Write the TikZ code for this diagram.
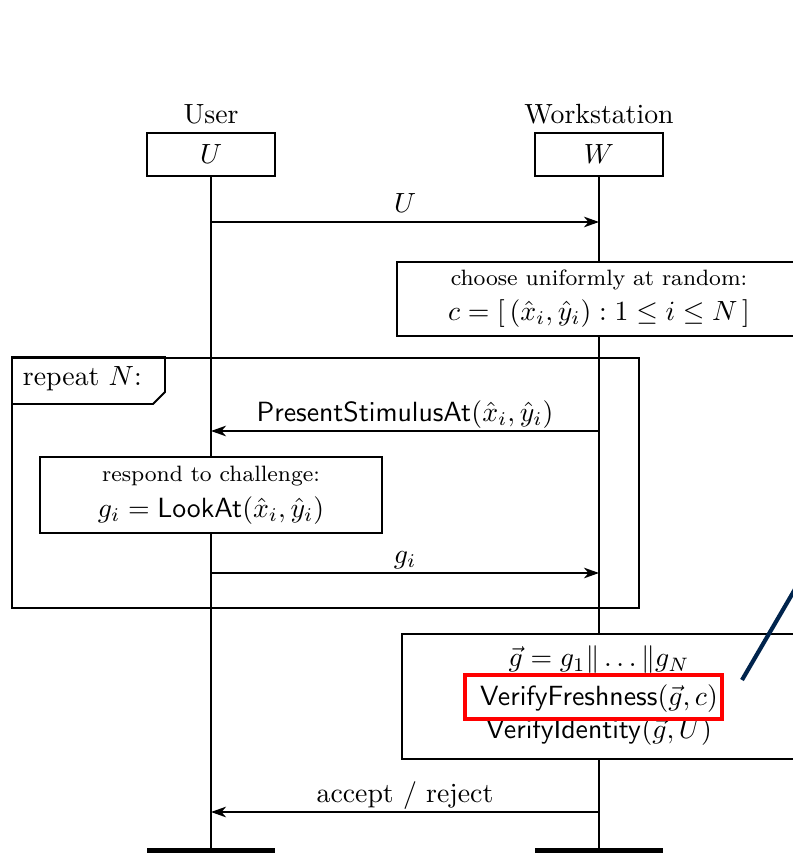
\documentclass[tikz,border=0pt]{standalone}
\usepackage{amsmath,amssymb}
\usetikzlibrary{arrows.meta}
\definecolor{calloutblue}{RGB}{0,36,77}

\begin{document}
\begin{tikzpicture}[
    x=0.36pt, y=-0.36pt,
    >={Stealth[length=5.4pt, width=3.8pt, inset=1.6pt]},
    line width=0.7pt,
    font=\normalsize,
    actor/.style={draw, minimum width=46pt, minimum height=15.5pt, inner sep=0pt},
    action/.style={draw, fill=white, align=center, inner sep=0pt},
    msg/.style={->},
    msglabel/.style={anchor=base, yshift=3.4pt, inner sep=0pt}
]
\useasboundingbox (0,0) rectangle (792,853);

% participants
\node[actor, label={[inner sep=2.4pt]above:User}] (U) at (211,154.5) {$U$};
\node[actor, label={[inner sep=2.4pt]above:Workstation}] (W) at (599,154.5) {$W$};

\coordinate (Uend) at (211,852);
\coordinate (Wend) at (599,852);

% lifelines
\draw (U.south) -- (Uend);
\draw (W.south) -- (Wend);
\draw[line width=3pt] ([xshift=-23pt]Uend) -- ([xshift=23pt]Uend);
\draw[line width=3pt] ([xshift=-23pt]Wend) -- ([xshift=23pt]Wend);

% message anchors
\coordinate (u1) at (211,222);  \coordinate (w1) at (599,222);
\coordinate (u2) at (211,431);  \coordinate (w2) at (599,431);
\coordinate (u3) at (211,573);  \coordinate (w3) at (599,573);
\coordinate (u4) at (211,812);  \coordinate (w4) at (599,812);

\draw[msg] (u1) -- node[msglabel] {$U$} (w1);

\node[action, minimum width=145.4pt, minimum height=26.6pt] (choose) at (599,299)
{ {\footnotesize choose uniformly at random:}\\[0.5pt]
  $c = [\,(\hat{x}_i, \hat{y}_i) : 1 \leq i \leq N\,]$ };

% loop frame
\node[draw, minimum width=225.7pt, minimum height=90pt, inner sep=0pt, anchor=north west] (loop) at (11,357) {};
\draw (loop.north west) -- (165,357) -- (165,392) -- (153,404) -- (11,404);
\node[anchor=west, inner sep=0pt] (loopname) at (22,379) {repeat $N$:};

\draw[msg] (w2) -- node[msglabel] {$\mathsf{PresentStimulusAt}(\hat{x}_i, \hat{y}_i)$} (u2);

\node[action, minimum width=123pt, minimum height=27.4pt] (respond) at (211,495)
{ {\footnotesize respond to challenge:}\\[1pt]
  $g_i = \mathsf{LookAt}(\hat{x}_i, \hat{y}_i)$ };

\draw[msg] (u3) -- node[msglabel] {$g_i$} (w3);

% verification
\node[action, minimum width=141.8pt, minimum height=45pt] (verify) at (599,696.5) {};
\node[inner sep=0pt] (concat) at (599,660) {$\vec{g} = g_1 \| \ldots \| g_N$};
\node[inner sep=0pt] (fresh) at (599,699) {$\mathsf{VerifyFreshness}(\vec{g}, c)$};
\node[inner sep=0pt] (ident) at (599,732) {$\mathsf{VerifyIdentity}(\vec{g}, U)$};
\node[draw=red, line width=1.5pt, minimum width=92.5pt, minimum height=15.8pt] (highlight) at (593.5,697) {};

\coordinate (calloutfoot) at (742,680);
\coordinate (callouttop) at (805,572);
\draw[calloutblue, line width=1.5pt] (calloutfoot) -- (callouttop);

\draw[msg] (w4) -- node[msglabel] {accept / reject} (u4);

\end{tikzpicture}
\end{document}
